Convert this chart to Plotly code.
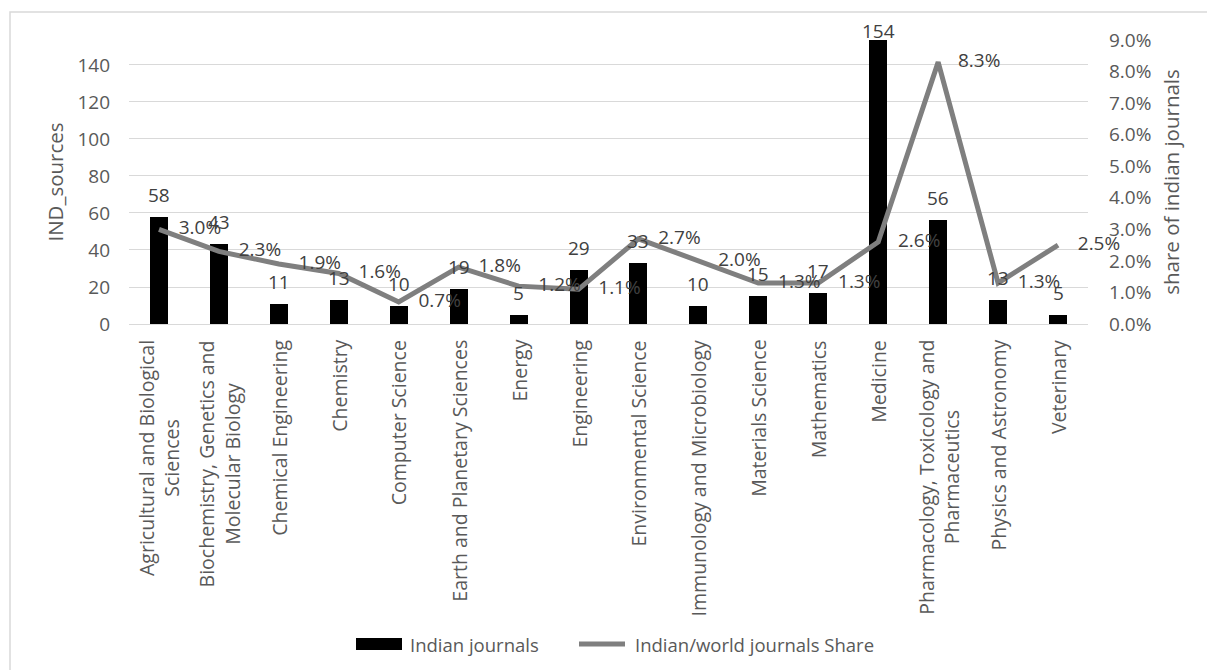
import plotly.graph_objects as go

# ---- data -------------------------------------------------------------
categories = [
    "Agricultural and Biological Sciences",
    "Biochemistry, Genetics and Molecular Biology",
    "Chemical Engineering",
    "Chemistry",
    "Computer Science",
    "Earth and Planetary Sciences",
    "Energy",
    "Engineering",
    "Environmental Science",
    "Immunology and Microbiology",
    "Materials Science",
    "Mathematics",
    "Medicine",
    "Pharmacology, Toxicology and Pharmaceutics",
    "Physics and Astronomy",
    "Veterinary",
]
category_labels = [
    "Agricultural and Biological<br>Sciences",
    "Biochemistry, Genetics and<br>Molecular Biology",
    "Chemical Engineering",
    "Chemistry",
    "Computer Science",
    "Earth and Planetary Sciences",
    "Energy",
    "Engineering",
    "Environmental Science",
    "Immunology and Microbiology",
    "Materials Science",
    "Mathematics",
    "Medicine",
    "Pharmacology, Toxicology and<br>Pharmaceutics",
    "Physics and Astronomy",
    "Veterinary",
]
indian_journals = [58, 43, 11, 13, 10, 19, 5, 29, 33, 10, 15, 17, 154, 56, 13, 5]
share_pct = [3.0, 2.3, 1.9, 1.6, 0.7, 1.8, 1.2, 1.1, 2.7, 2.0, 1.3, 1.3, 2.6, 8.3, 1.3, 2.5]
left_ticks = [0, 20, 40, 60, 80, 100, 120, 140]

# ---- geometry & style -------------------------------------------------
W, H = 1207, 670
L, R, T, B = 129, 119, 40, 346
PLOT_W = W - L - R
PLOT_H = H - T - B
Y1_MAX = 153.5
Y2_MAX = 0.09

FONT = "Open Sans"
TICK_COLOR = "#595959"
LABEL_COLOR = "#404040"
GRID = "#d9d9d9"
BAR_COLOR = "#000000"
LINE_COLOR = "#7f7f7f"


def px_x(px):
    return (px - L) / PLOT_W


def px_y(py):
    return (H - B - py) / PLOT_H


share = [v / 100 for v in share_pct]

fig = go.Figure()

fig.add_trace(go.Bar(
    x=categories,
    y=indian_journals,
    width=0.3,
    marker=dict(color=BAR_COLOR, line=dict(width=0)),
    name="Indian journals",
    showlegend=False,
))

fig.add_trace(go.Scatter(
    x=categories,
    y=share,
    yaxis="y2",
    mode="lines+markers+text",
    line=dict(color=LINE_COLOR, width=5),
    marker=dict(size=30, color="rgba(0,0,0,0)"),
    text=[f"{v:.1f}%" for v in share_pct],
    textposition="middle right",
    textfont=dict(family=FONT, size=19, color=LABEL_COLOR),
    cliponaxis=False,
    name="Indian/world journals Share",
    showlegend=False,
))

annotations = []

# value labels above the bars; a bar reaching the top keeps its label inside
ppu = PLOT_H / Y1_MAX
for cat, v in zip(categories, indian_journals):
    anchor = min(v, Y1_MAX)
    shift = min(22, (Y1_MAX - anchor) * ppu + 10) - (v - anchor) * ppu
    annotations.append(dict(
        x=cat, y=anchor, xref="x", yref="y", text=str(v), showarrow=False,
        yanchor="middle", yshift=shift,
        font=dict(family=FONT, size=19, color=LABEL_COLOR),
    ))

# rotated category labels under the axis
for cat, lab in zip(categories, category_labels):
    annotations.append(dict(
        x=cat, y=px_y(338), xref="x", yref="paper", text=lab, showarrow=False,
        textangle=-90, xanchor="center", yanchor="top", align="center",
        font=dict(family=FONT, size=19.5, color=TICK_COLOR),
    ))

# legend entries
annotations.append(dict(
    x=px_x(408), y=px_y(644), xref="paper", yref="paper", text="Indian journals",
    showarrow=False, xanchor="left", yanchor="middle",
    font=dict(family=FONT, size=18.5, color=TICK_COLOR),
))
annotations.append(dict(
    x=px_x(633), y=px_y(644), xref="paper", yref="paper",
    text="Indian/world journals Share",
    showarrow=False, xanchor="left", yanchor="middle",
    font=dict(family=FONT, size=18.5, color=TICK_COLOR),
))

shapes = [
    # chart frame
    dict(type="rect", xref="paper", yref="paper",
         x0=px_x(10), x1=px_x(1230), y0=px_y(700), y1=px_y(12),
         line=dict(color=GRID, width=1.5), fillcolor="rgba(0,0,0,0)", layer="below"),
    # legend swatches
    dict(type="rect", xref="paper", yref="paper",
         x0=px_x(356), x1=px_x(402), y0=px_y(650), y1=px_y(638),
         line=dict(width=0), fillcolor=BAR_COLOR),
    dict(type="line", xref="paper", yref="paper",
         x0=px_x(579), x1=px_x(625), y0=px_y(644), y1=px_y(644),
         line=dict(color=LINE_COLOR, width=5)),
]

fig.update_layout(
    width=W,
    height=H,
    margin=dict(l=L, r=R, t=T, b=B, autoexpand=False),
    paper_bgcolor="white",
    plot_bgcolor="white",
    font=dict(family=FONT, color=TICK_COLOR),
    showlegend=False,
    bargap=0,
    xaxis=dict(
        type="category",
        range=[-0.5, len(categories) - 0.5],
        showticklabels=False,
        showgrid=False,
        zeroline=False,
        showline=False,
        ticks="",
    ),
    yaxis=dict(
        range=[0, Y1_MAX],
        tickvals=left_ticks,
        showgrid=True,
        gridcolor=GRID,
        gridwidth=1,
        zeroline=True,
        zerolinecolor=GRID,
        zerolinewidth=1,
        showline=False,
        ticks="",
        ticklabelstandoff=18,
        tickfont=dict(family=FONT, size=19, color=TICK_COLOR),
        title=dict(text="IND_sources", standoff=8,
                   font=dict(family=FONT, size=20.5, color=TICK_COLOR)),
    ),
    yaxis2=dict(
        overlaying="y",
        side="right",
        range=[0, Y2_MAX * 1.000001],
        dtick=0.01,
        tickformat=".1%",
        showgrid=False,
        zeroline=False,
        showline=False,
        ticks="",
        ticklabelstandoff=20,
        tickfont=dict(family=FONT, size=19, color=TICK_COLOR),
        title=dict(text="share of indian journals", standoff=14,
                   font=dict(family=FONT, size=20.5, color=TICK_COLOR)),
    ),
    annotations=annotations,
    shapes=shapes,
)

fig.write_html("out.html")
